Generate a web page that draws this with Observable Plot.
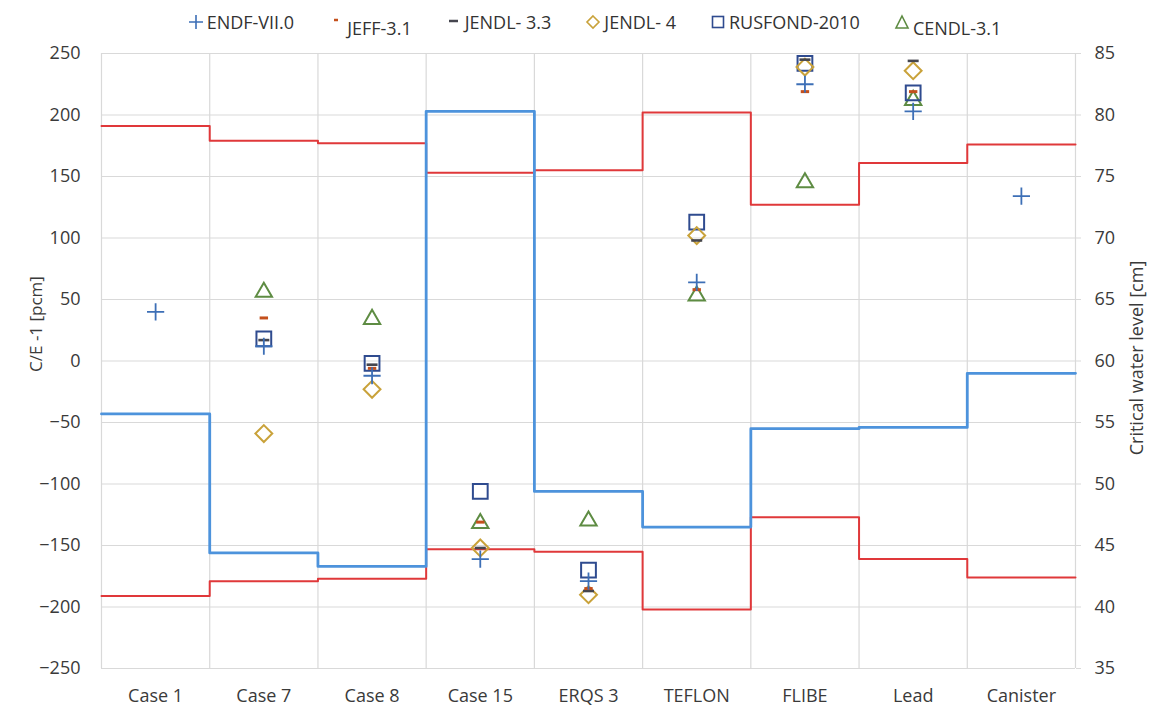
<!DOCTYPE html>
<html>
<head>
<meta charset="utf-8">
<script src="https://cdn.jsdelivr.net/npm/d3@7"></script>
<script src="https://cdn.jsdelivr.net/npm/@observablehq/plot@0.6"></script>
<style>
  html, body { margin: 0; padding: 0; background: #ffffff; }
  body { width: 1149px; height: 709px; overflow: hidden; font-family: "Open Sans", sans-serif; }
  #legend { height: 40px; display: flex; align-items: center; justify-content: center; gap: 34px; padding-left: 40px; padding-top: 4px; box-sizing: border-box; font-size: 18px; color: #333333; }
  #legend .item { display: flex; align-items: center; gap: 3px; }
  #legend .low { position: relative; top: 6px; }
  #chart svg { display: block; }
</style>
</head>
<body>
<div id="legend"></div>
<div id="chart"></div>
<script>
// ---- Data ----
const cases = ["Case 1", "Case 7", "Case 8", "Case 15", "ERQS 3", "TEFLON", "FLIBE", "Lead", "Canister"];
// C/E - 1 [pcm] per nuclear data library (null = not shown)
const endf    = [40, 12, -12, -161, -179, 64, 225, 203, 134];
const jeff    = [null, 35, -6, -131, -185, 58, 219, 219, null];
const jendl33 = [null, 17, -3, -152, -187, 98, 245, 244, null];
const jendl4  = [null, -59, -23, -152, -190, 102, 239, 236, null];
const rusfond = [null, 18, -2, -106, -170, 113, 242, 218, null];
const cendl   = [null, 56, 34, -132, -130, 53, 145, 212, null];
// experimental uncertainty band (+/- pcm)
const uncertainty = [191, 179, 177, 153, 155, 202, 127, 161, 176];
// critical water level [cm] (right axis)
const waterLevel = [55.7, 44.4, 43.3, 80.3, 49.4, 46.5, 54.5, 54.6, 59.0];
// axis ticks
const leftTicks = [-250, -200, -150, -100, -50, 0, 50, 100, 150, 200, 250];
const rightTicks = [35, 40, 45, 50, 55, 60, 65, 70, 75, 80, 85];

// ---- Helpers ----
const leftDomain = [-250, 250];
const rightDomain = [35, 85];
const toLeft = cm => leftDomain[0] + (cm - rightDomain[0]) * (leftDomain[1] - leftDomain[0]) / (rightDomain[1] - rightDomain[0]);
const fromLeft = v => rightDomain[0] + (v - leftDomain[0]) * (rightDomain[1] - rightDomain[0]) / (leftDomain[1] - leftDomain[0]);

const stepData = vals => vals.map((v, i) => ({x: i, y: v})).concat([{x: vals.length, y: vals[vals.length - 1]}]);
const pts = vals => vals.map((v, i) => ({x: i + 0.5, y: v})).filter(d => d.y != null);

const dash = {draw(context, size) { const w = Math.sqrt(size / Math.PI); context.moveTo(-w, 0); context.lineTo(w, 0); }};

const colors = {
  endf: "#3d6fb6", jeff: "#c4501c", jendl33: "#45464f", jendl4: "#c9a23a",
  rusfond: "#2f4b8f", cendl: "#5e8c43", red: "#e0383a", blue: "#4d93dc"
};

const plot = Plot.plot({
  width: 1149,
  height: 669,
  marginLeft: 101,
  marginRight: 74,
  marginTop: 13,
  marginBottom: 41,
  style: {fontFamily: "'Open Sans', sans-serif", fontSize: "18px", color: "#3a3a3a", background: "#ffffff", overflow: "visible"},
  x: {domain: [0, cases.length], axis: null},
  y: {domain: leftDomain, axis: null},
  marks: [
    Plot.gridY(leftTicks, {stroke: "#d9d9d9", strokeOpacity: 1, strokeWidth: 1.2}),
    Plot.gridX(d3.range(0, cases.length + 1), {stroke: "#d9d9d9", strokeOpacity: 1, strokeWidth: 1.2}),
    Plot.axisY(leftTicks, {anchor: "left", tickSize: 0, tickPadding: 21, label: null}),
    Plot.axisY(rightTicks.map(toLeft), {anchor: "right", tickSize: 5, tickPadding: 14, stroke: "#d9d9d9", label: null, tickFormat: d => Math.round(fromLeft(d))}),
    Plot.axisX(d3.range(cases.length).map(i => i + 0.5), {anchor: "bottom", tickSize: 0, tickPadding: 21, label: null, tickFormat: d => cases[Math.floor(d)]}),
    Plot.text(["C/E -1 [pcm]"], {frameAnchor: "left", textAnchor: "middle", dx: -65, dy: -37, rotate: -90, fontSize: 17, fill: "#3a3a3a"}),
    Plot.text(["Critical water level [cm]"], {frameAnchor: "right", textAnchor: "middle", dx: 62, dy: -3, rotate: -90, fontSize: 18, fill: "#3a3a3a"}),
    // uncertainty band (red) and water level (blue) step lines
    Plot.line(stepData(uncertainty), {x: "x", y: "y", curve: "step-after", stroke: colors.red, strokeWidth: 2}),
    Plot.line(stepData(uncertainty.map(v => -v)), {x: "x", y: "y", curve: "step-after", stroke: colors.red, strokeWidth: 2}),
    Plot.line(stepData(waterLevel.map(toLeft)), {x: "x", y: "y", curve: "step-after", stroke: colors.blue, strokeWidth: 2.8}),
    // library markers
    Plot.dot(pts(cendl), {x: "x", y: "y", symbol: "triangle2", r: 7.8, stroke: colors.cendl, strokeWidth: 2, fill: "none"}),
    Plot.dot(pts(rusfond), {x: "x", y: "y", symbol: "square2", r: 9.4, stroke: colors.rusfond, strokeWidth: 2, fill: "none"}),
    Plot.dot(pts(jendl4), {x: "x", y: "y", symbol: "diamond2", r: 7.6, stroke: colors.jendl4, strokeWidth: 2, fill: "none"}),
    Plot.dot(pts(jendl33), {x: "x", y: "y", symbol: dash, r: 5.5, stroke: colors.jendl33, strokeWidth: 2.6, fill: "none"}),
    Plot.dot(pts(jeff), {x: "x", y: "y", symbol: dash, r: 4.2, stroke: colors.jeff, strokeWidth: 3, fill: "none"}),
    Plot.dot(pts(endf), {x: "x", y: "y", symbol: "plus", r: 5.6, stroke: colors.endf, strokeWidth: 1.8, fill: "none"})
  ]
});
document.getElementById("chart").appendChild(plot);

// ---- Legend ----
const legendItems = [
  {label: "ENDF-VII.0", color: colors.endf, shape: "plus"},
  {label: "JEFF-3.1", color: colors.jeff, shape: "smalldash", low: true},
  {label: "JENDL- 3.3", color: colors.jendl33, shape: "dash"},
  {label: "JENDL- 4", color: colors.jendl4, shape: "diamond"},
  {label: "RUSFOND-2010", color: colors.rusfond, shape: "square"},
  {label: "CENDL-3.1", color: colors.cendl, shape: "triangle", low: true}
];
const shapes = {
  plus: c => `<path d="M1,8H15M8,1V15" stroke="${c}" stroke-width="1.6" fill="none"/>`,
  smalldash: c => `<path d="M6,6H10" stroke="${c}" stroke-width="2.5" fill="none"/>`,
  dash: c => `<path d="M3,7H12" stroke="${c}" stroke-width="2.5" fill="none"/>`,
  diamond: c => `<path d="M8,2L14,8L8,14L2,8Z" stroke="${c}" stroke-width="1.6" fill="none"/>`,
  square: c => `<rect x="2.5" y="2.5" width="11" height="11" stroke="${c}" stroke-width="1.6" fill="none"/>`,
  triangle: c => `<path d="M8,2L14,14H2Z" stroke="${c}" stroke-width="1.6" fill="none"/>`
};
const legend = document.getElementById("legend");
for (const it of legendItems) {
  const el = document.createElement("div");
  el.className = "item";
  el.innerHTML = `<svg width="16" height="16" viewBox="0 0 16 16">${shapes[it.shape](it.color)}</svg><span class="${it.low ? "low" : ""}">${it.label}</span>`;
  legend.appendChild(el);
}
</script>
</body>
</html>
